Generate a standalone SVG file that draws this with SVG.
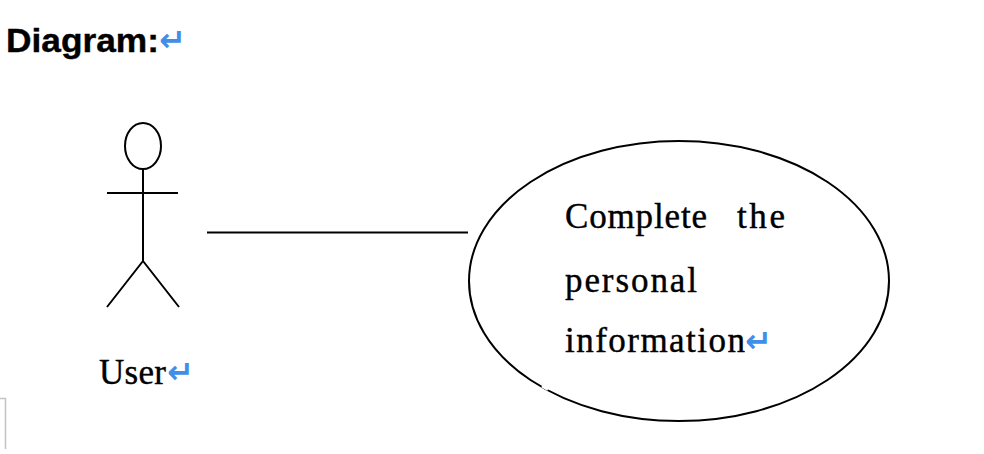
<svg xmlns="http://www.w3.org/2000/svg" width="984" height="454" viewBox="0 0 984 454">
<style>
.l{fill:none;stroke:#000;stroke-width:2}
.t{font-family:"Liberation Serif",serif;font-size:35px;fill:#000;stroke:#000;stroke-width:.4}
.h{font-family:"Liberation Sans",sans-serif;font-size:34px;font-weight:bold;fill:#000;stroke:#000;stroke-width:.4}
.r{font-family:"DejaVu Sans",sans-serif;font-size:32px;font-weight:bold;fill:#3f8ee8}
</style>
<rect width="984" height="454" fill="#fff"/>
<text class="h" x="6" y="52" textLength="153" lengthAdjust="spacingAndGlyphs">Diagram:</text>
<text class="r" x="159" y="51">↵</text>
<path d="M0 398.500H5.500V449" fill="none" stroke="#c4c4c4" stroke-width="1.500"/>
<g id="connectors"><line class="l" x1="207" y1="232.500" x2="468" y2="232.500"/></g>
<g id="actor-user">
<ellipse class="l" cx="143" cy="146" rx="18" ry="23"/>
<path class="l" d="M143 169V261M107 193H178M143 261L107 307M143 261L179 307"/>
<text class="t" x="99" y="384" textLength="67" lengthAdjust="spacing">User</text>
<text class="r" x="167" y="383">↵</text>
</g>
<g id="usecase">
<ellipse class="l" cx="679" cy="281" rx="210" ry="140"/>
<line x1="542" y1="386" x2="548" y2="389.500" stroke="#fff" stroke-width="3"/>
<text class="t" x="565" y="228" textLength="142" lengthAdjust="spacing">Complete</text>
<text class="t" x="737" y="228" textLength="48" lengthAdjust="spacing">the</text>
<text class="t" x="565" y="292" textLength="132" lengthAdjust="spacing">personal</text>
<text class="t" x="565" y="352" textLength="180" lengthAdjust="spacing">information</text>
<text class="r" x="745" y="352">↵</text>
</g>
</svg>
